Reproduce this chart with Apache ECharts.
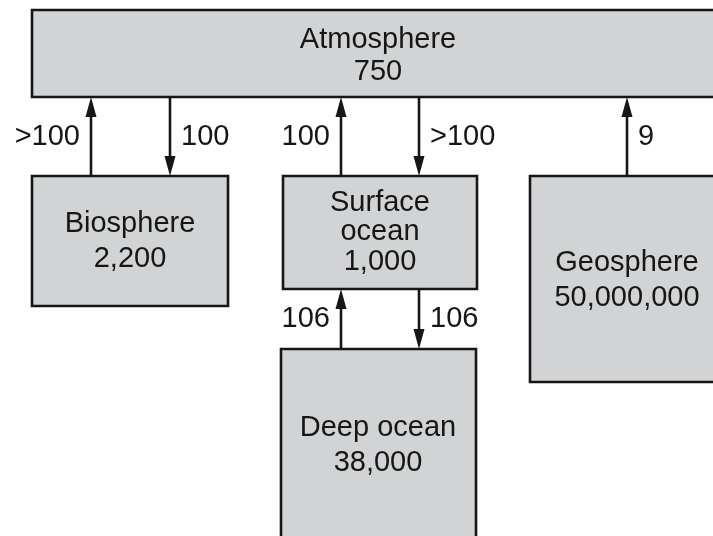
<!DOCTYPE html>
<html>
<head>
<meta charset="utf-8">
<script src="https://cdn.jsdelivr.net/npm/echarts@6.0.0/dist/echarts.min.js"></script>
<style>
  html, body { margin: 0; padding: 0; background: #fff; }
  #chart { width: 713px; height: 536px; }
</style>
</head>
<body>
<div id="chart"></div>
<script>
// carbon reservoirs (stocks) and fluxes between them
const stockNames = ['Atmosphere', 'Biosphere', 'Surface\nocean', 'Geosphere', 'Deep ocean']
const stockValues = [750, 2200, 1000, 50000000, 38000]

const fluxLabels = ['>100', '100', '100', '>100', '9', '106', '106']

// layout of the boxes, in page pixels
const boxLeft = [32, 32, 283, 530, 281]
const boxTop = [10, 176, 176, 176, 349]
const boxRight = [722, 228, 477, 724, 476]
const boxBottom = [97, 306, 289, 382, 542]
const textX = [378, 130, 380, 627, 378]
const textY = [56, 241, 232, 280, 445]
const lineGap = [32, 35, 29.5, 35, 35]

// layout of the arrows: x, tail y, tip y, side of label
const arrowX = [91, 170, 341, 419, 627, 341, 419]
const arrowTail = [176, 97, 176, 97, 176, 349, 289]
const arrowTip = [97, 176, 97, 176, 97, 289, 349]
const labelSide = ['left', 'right', 'left', 'right', 'right', 'left', 'right']

const INK = '#161616'
const FONT = '"Liberation Sans", Helvetica, Arial, sans-serif'
const FONT_SIZE = 29

const boxData = stockNames.map((n, i) => [boxLeft[i], boxTop[i], boxRight[i], boxBottom[i], textX[i], textY[i]])
const arrowData = fluxLabels.map((l, i) => [arrowX[i], arrowTail[i], arrowTip[i]])

function renderBox (params, api) {
  const i = params.dataIndex
  const p0 = api.coord([api.value(0), api.value(1)])
  const p1 = api.coord([api.value(2), api.value(3)])
  const c = api.coord([api.value(4), api.value(5)])
  return {
    type: 'group',
    children: [
      {
        type: 'rect',
        shape: { x: p0[0], y: p0[1], width: p1[0] - p0[0], height: p1[1] - p0[1] },
        style: { fill: '#d1d3d4', stroke: INK, lineWidth: 2.6 }
      },
      {
        type: 'text',
        x: c[0],
        y: c[1],
        style: {
          text: stockNames[i] + '\n' + stockValues[i].toLocaleString('en-US'),
          fill: INK,
          fontSize: FONT_SIZE,
          fontFamily: FONT,
          lineHeight: lineGap[i],
          align: 'center',
          verticalAlign: 'middle'
        }
      }
    ]
  }
}

function renderArrow (params, api) {
  const i = params.dataIndex
  const tail = api.coord([api.value(0), api.value(1)])
  const tip = api.coord([api.value(0), api.value(2)])
  const dir = tip[1] < tail[1] ? 1 : -1   // +1 arrow points up
  const headLen = 20
  const halfW = 5.5
  const base = tip[1] + dir * headLen
  const midY = (tail[1] + tip[1]) / 2
  const left = labelSide[i] === 'left'
  return {
    type: 'group',
    children: [
      {
        type: 'line',
        shape: { x1: tail[0], y1: tail[1], x2: tip[0], y2: base },
        style: { stroke: INK, lineWidth: 2.6 }
      },
      {
        type: 'polygon',
        shape: { points: [[tip[0], tip[1]], [tip[0] - halfW, base], [tip[0] + halfW, base]] },
        style: { fill: INK }
      },
      {
        type: 'text',
        x: tip[0] + (left ? -11 : 11),
        y: midY,
        style: {
          text: fluxLabels[i],
          fill: INK,
          fontSize: FONT_SIZE,
          fontFamily: FONT,
          align: left ? 'right' : 'left',
          verticalAlign: 'middle'
        }
      }
    ]
  }
}

const myChart = echarts.init(document.getElementById('chart'))
myChart.setOption({
  backgroundColor: '#fff',
  animation: false,
  grid: { left: 0, right: 0, top: 0, bottom: 0 },
  xAxis: { type: 'value', min: 0, max: 713, show: false },
  yAxis: { type: 'value', min: 0, max: 536, inverse: true, show: false },
  series: [
    {
      type: 'custom',
      name: 'arrows',
      renderItem: renderArrow,
      data: arrowData,
      clip: false,
      z: 3
    },
    {
      type: 'custom',
      name: 'boxes',
      renderItem: renderBox,
      data: boxData,
      clip: false,
      z: 2
    }
  ]
})
</script>
</body>
</html>
